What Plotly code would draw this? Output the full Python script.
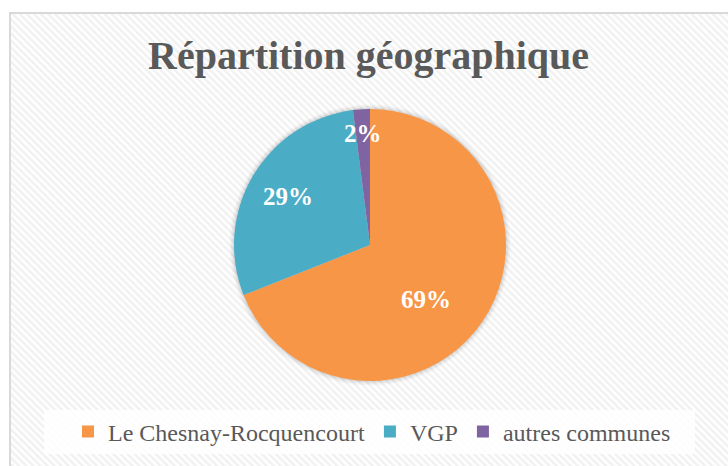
import base64
import math
import plotly.graph_objects as go

# ---- data ----
categories = ["Le Chesnay-Rocquencourt", "VGP", "autres communes"]
values = [69, 29, 2]
colors = ["#F79646", "#4BACC6", "#8064A2"]
# style: radial position and angular nudge (degrees) of the data labels
label_radius = [0.57, 0.70, 0.82]
label_nudge = [10, 0, 0]

W, H = 728, 466
CX, CY, R = 370, 245, 136  # pie centre / radius in pixels

def px_x(x):
    return x / W

def px_y(y):
    return 1 - y / H

# hatched background (Excel-like light diagonal pattern)
bx, by = 11, 14
bw, bh = W - bx, H - by
svg = (
    f"<svg xmlns='http://www.w3.org/2000/svg' width='{bw}' height='{bh}'>"
    "<defs><pattern id='p' width='5' height='5' patternUnits='userSpaceOnUse' "
    "patternTransform='rotate(-45)'>"
    "<rect width='5' height='5' fill='#ffffff'/>"
    "<rect width='2.5' height='5' fill='#f1f1f1'/></pattern></defs>"
    "<rect width='100%' height='100%' fill='url(#p)'/></svg>"
)
src = "data:image/svg+xml;base64," + base64.b64encode(svg.encode()).decode()

fig = go.Figure(
    go.Pie(
        labels=categories,
        values=values,
        sort=False,
        direction="clockwise",
        rotation=0,
        marker=dict(colors=colors, line=dict(width=0)),
        textinfo="none",
        hoverinfo="label+percent",
        domain=dict(x=[px_x(CX - R), px_x(CX + R)], y=[px_y(CY + R), px_y(CY - R)]),
    )
)

# data labels, placed from each slice's mid-angle
total = sum(values)
annotations = []
cum = 0
for v, rf, nd in zip(values, label_radius, label_nudge):
    mid = (cum + v / 2) / total * 2 * math.pi + math.radians(nd)
    cum += v
    x = CX + rf * R * math.sin(mid)
    y = CY - rf * R * math.cos(mid)
    annotations.append(
        dict(
            x=px_x(x), y=px_y(y), xref="paper", yref="paper",
            text=f"{round(v / total * 100)}%", showarrow=False,
            font=dict(family="Liberation Serif", size=25, color="white", weight="bold"),
            xanchor="center", yanchor="middle",
        )
    )

annotations.append(
    dict(
        x=px_x(368), y=px_y(56), xref="paper", yref="paper",
        text="<b>Répartition géographique</b>", showarrow=False,
        font=dict(family="Liberation Serif", size=40, color="#595959"),
        xanchor="center", yanchor="middle",
    )
)

# soft shadow around the pie
shadow = []
for dr, a in [(4.5, 0.03), (3, 0.04), (1.5, 0.06)]:
    shadow.append(dict(
        type="circle", xref="paper", yref="paper",
        x0=px_x(CX - R - dr), x1=px_x(CX + R + dr),
        y0=px_y(CY + R + dr), y1=px_y(CY - R - dr),
        fillcolor=f"rgba(0,0,0,{a})", line=dict(width=0), layer="below",
    ))

fig.update_layout(
    width=W, height=H,
    margin=dict(l=0, r=0, t=0, b=0),
    paper_bgcolor="white",
    plot_bgcolor="white",
    images=[dict(
        source=src, xref="paper", yref="paper",
        x=px_x(bx), y=px_y(by), sizex=bw / W, sizey=bh / H,
        xanchor="left", yanchor="top", sizing="stretch", layer="below",
    )],
    shapes=shadow + [
        dict(type="rect", xref="paper", yref="paper",
             x0=px_x(44), x1=px_x(695), y0=px_y(454), y1=px_y(410),
             fillcolor="rgba(255,255,255,0.85)", line=dict(width=0), layer="below"),
        dict(type="rect", xref="paper", yref="paper",
             x0=px_x(10), x1=px_x(W + 20), y0=px_y(H + 20), y1=px_y(13),
             fillcolor="rgba(0,0,0,0)", line=dict(color="#d9d9d9", width=2)),
    ],
    annotations=annotations,
    showlegend=True,
    legend=dict(
        orientation="h", x=px_x(372), y=px_y(432), xanchor="center", yanchor="middle",
        bgcolor="rgba(0,0,0,0)",
        font=dict(family="Liberation Serif", size=24, color="#595959"),
        itemclick=False, itemdoubleclick=False,
    ),
)

fig.write_html(
    "out.html",
    config={"displayModeBar": False},
    post_script="document.body.style.margin='0';document.body.style.overflow='hidden';",
)
